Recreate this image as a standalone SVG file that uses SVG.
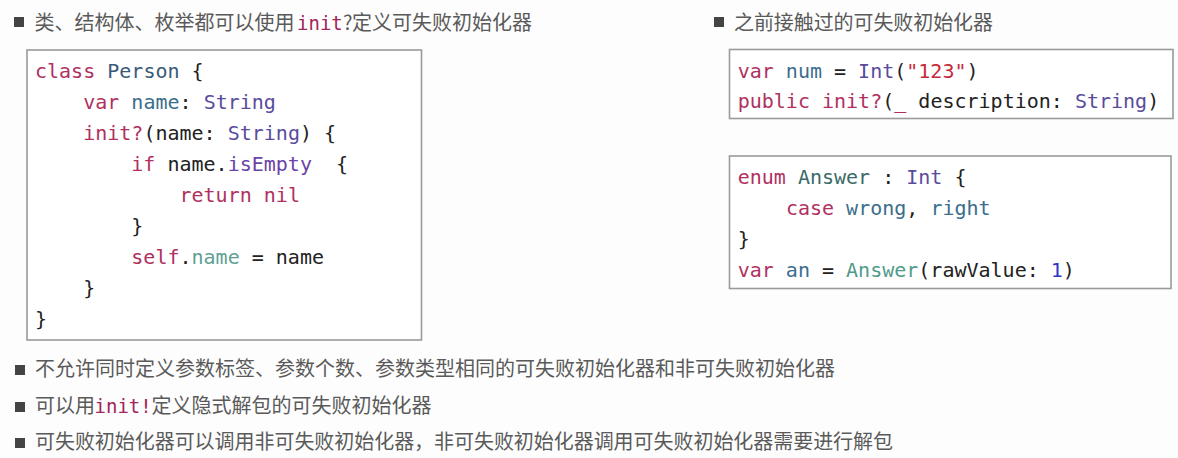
<svg xmlns="http://www.w3.org/2000/svg" width="1178" height="458" viewBox="0 0 1178 458">
<style>
.bg{fill:#fdfdfd}
.box{fill:#ffffff;stroke:#9a9a9a;stroke-width:1.6}
.bul{fill:#444444}
.cn{font-family:"Noto Sans CJK SC","Noto Sans",sans-serif;font-size:20px;fill:#5a5a5a}
.code{font-family:"DejaVu Sans Mono","Liberation Mono",monospace;font-size:20px;fill:#222222;white-space:pre}
.hm{font-family:"DejaVu Sans Mono","Liberation Mono",monospace;font-size:19px;fill:#a3245a}
.kw{fill:#b0315f}
.ty{fill:#5a4c9c}
.cl{fill:#3a5a78}
.id{fill:#3b6e8c}
.pr{fill:#5f9f94}
.en{fill:#3a6a68}
.ca{fill:#4f9a8a}
.mt{fill:#6a44a6}
.st{fill:#c62a3a}
.nu{fill:#2e34c8}
</style>
<rect class="bg" x="0" y="0" width="1178" height="458"/>

<g id="header-left">
<rect class="bul" x="14" y="17" width="10" height="10"/>
<text class="cn" y="30"><tspan x="34.5">类、结构体、枚举都可以使用</tspan><tspan class="hm" x="297">init</tspan><tspan x="343">?</tspan><tspan x="352">定义可失败初始化器</tspan></text>
</g>

<g id="header-right">
<rect class="bul" x="714" y="17" width="10" height="10"/>
<text class="cn" x="734" y="30" textLength="259" lengthAdjust="spacing">之前接触过的可失败初始化器</text>
</g>

<g id="code-person">
<rect class="box" x="27" y="50" width="394.5" height="290"/>
<text class="code" x="35" y="77.5" xml:space="preserve"><tspan class="kw">class</tspan> <tspan class="cl">Person</tspan> {</text>
<text class="code" x="83.2" y="108.5" xml:space="preserve"><tspan class="kw">var</tspan> <tspan class="id">name</tspan>: <tspan class="ty">String</tspan></text>
<text class="code" x="83.2" y="139.5" xml:space="preserve"><tspan class="kw">init?</tspan>(name: <tspan class="ty">String</tspan>) {</text>
<text class="code" x="131.3" y="170.5" xml:space="preserve"><tspan class="kw">if</tspan> name.<tspan class="mt">isEmpty</tspan>  {</text>
<text class="code" x="179.5" y="201.5" xml:space="preserve"><tspan class="kw">return</tspan> <tspan class="kw">nil</tspan></text>
<text class="code" x="131.3" y="232.5">}</text>
<text class="code" x="131.3" y="263.5" xml:space="preserve"><tspan class="kw">self</tspan>.<tspan class="pr">name</tspan> = name</text>
<text class="code" x="83.2" y="294.5">}</text>
<text class="code" x="35" y="325.5">}</text>
</g>

<g id="code-int">
<rect class="box" x="729.5" y="49.5" width="443.5" height="69"/>
<text class="code" x="737.7" y="78.3" xml:space="preserve"><tspan class="kw">var</tspan> <tspan class="id">num</tspan> = <tspan class="ty">Int</tspan>(<tspan class="st">"123"</tspan>)</text>
<text class="code" x="737.7" y="108.3" xml:space="preserve"><tspan class="kw">public</tspan> <tspan class="kw">init?</tspan>(<tspan class="kw">_</tspan> description: <tspan class="ty">String</tspan>)</text>
</g>

<g id="code-enum">
<rect class="box" x="729.5" y="156" width="441.5" height="132.5"/>
<text class="code" x="737.7" y="184.3" xml:space="preserve"><tspan class="kw">enum</tspan> <tspan class="en">Answer</tspan> : <tspan class="ty">Int</tspan> {</text>
<text class="code" x="785.9" y="215" xml:space="preserve"><tspan class="kw">case</tspan> <tspan class="id">wrong</tspan>, <tspan class="id">right</tspan></text>
<text class="code" x="737.7" y="245.7">}</text>
<text class="code" x="737.7" y="276.5" xml:space="preserve"><tspan class="kw">var</tspan> <tspan class="id">an</tspan> = <tspan class="ca">Answer</tspan>(rawValue: <tspan class="nu">1</tspan>)</text>
</g>

<g id="note-1">
<rect class="bul" x="15" y="365" width="10" height="10"/>
<text class="cn" x="35" y="376" textLength="800" lengthAdjust="spacing">不允许同时定义参数标签、参数个数、参数类型相同的可失败初始化器和非可失败初始化器</text>
</g>

<g id="note-2">
<rect class="bul" x="15" y="402" width="10" height="10"/>
<text class="cn" y="413"><tspan x="35">可以用</tspan><tspan class="hm" x="94.5">init!</tspan><tspan x="151.5">定义隐式解包的可失败初始化器</tspan></text>
</g>

<g id="note-3">
<rect class="bul" x="15" y="438" width="10" height="10"/>
<text class="cn" x="35" y="449" textLength="858" lengthAdjust="spacing">可失败初始化器可以调用非可失败初始化器，非可失败初始化器调用可失败初始化器需要进行解包</text>
</g>

<g id="connectors"/>
</svg>
